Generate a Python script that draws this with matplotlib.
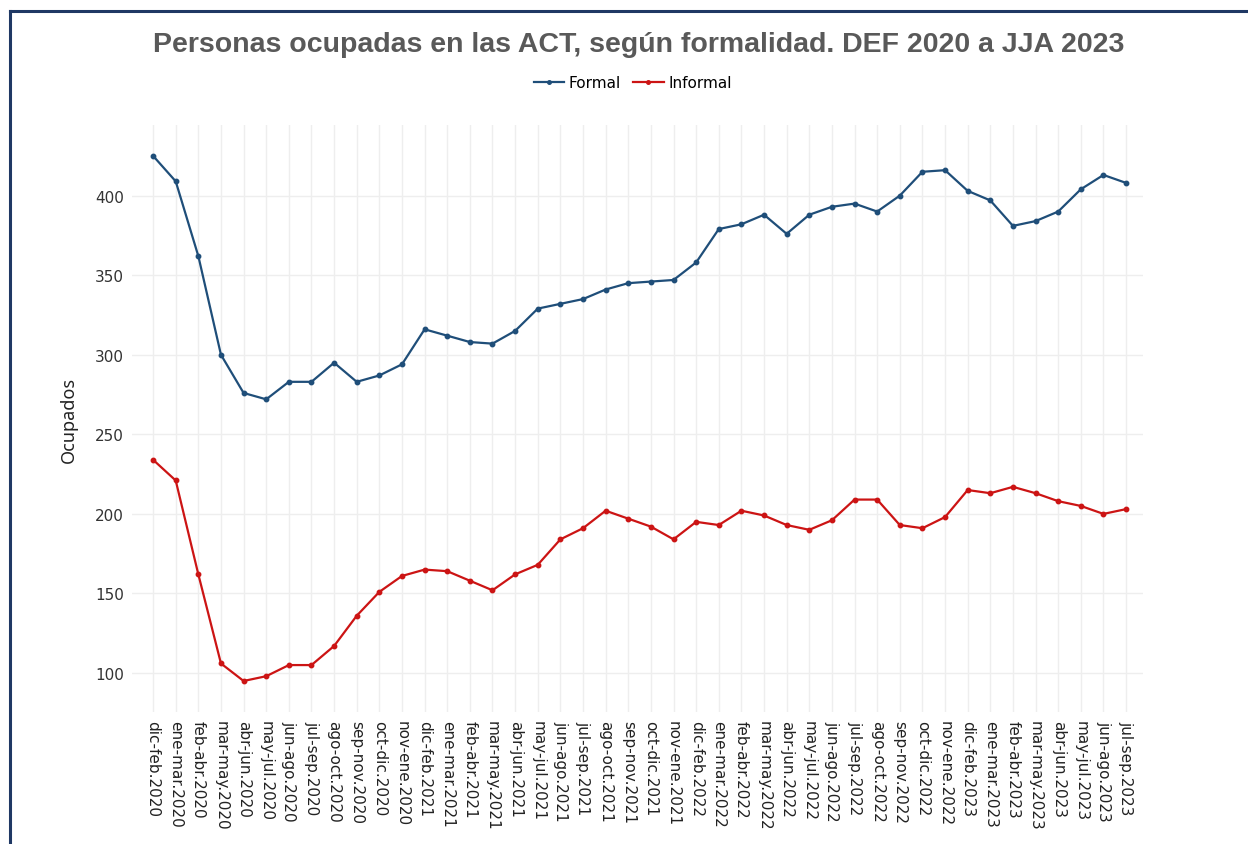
import matplotlib.pyplot as plt
from matplotlib.lines import Line2D

periodos = [
    "dic-feb.2020", "ene-mar.2020", "feb-abr.2020", "mar-may.2020", "abr-jun.2020",
    "may-jul.2020", "jun-ago.2020", "jul-sep.2020", "ago-oct.2020", "sep-nov.2020",
    "oct-dic.2020", "nov-ene.2020", "dic-feb.2021", "ene-mar.2021", "feb-abr.2021",
    "mar-may.2021", "abr-jun.2021", "may-jul.2021", "jun-ago.2021", "jul-sep.2021",
    "ago-oct.2021", "sep-nov.2021", "oct-dic.2021", "nov-ene.2021", "dic-feb.2022",
    "ene-mar.2022", "feb-abr.2022", "mar-may.2022", "abr-jun.2022", "may-jul.2022",
    "jun-ago.2022", "jul-sep.2022", "ago-oct.2022", "sep-nov.2022", "oct-dic.2022",
    "nov-ene.2022", "dic-feb.2023", "ene-mar.2023", "feb-abr.2023", "mar-may.2023",
    "abr-jun.2023", "may-jul.2023", "jun-ago.2023", "jul-sep.2023",
]

formal = [
    425, 409, 362, 300, 276, 272, 283, 283, 295, 283,
    287, 294, 316, 312, 308, 307, 315, 329, 332, 335,
    341, 345, 346, 347, 358, 379, 382, 388, 376, 388,
    393, 395, 390, 400, 415, 416, 403, 397, 381, 384,
    390, 404, 413, 408,
]

informal = [
    234, 221, 162, 106, 95, 98, 105, 105, 117, 136,
    151, 161, 165, 164, 158, 152, 162, 168, 184, 191,
    202, 197, 192, 184, 195, 193, 202, 199, 193, 190,
    196, 209, 209, 193, 191, 198, 215, 213, 217, 213,
    208, 205, 200, 203,
]

azul = "#1f4e79"
rojo = "#cc1414"
x = list(range(len(periodos)))

fig = plt.figure(figsize=(12.48, 8.45), dpi=100)
ax = fig.add_axes([0.1058, 0.1562, 0.8101, 0.6947])

ax.plot(x, formal, color=azul, lw=1.6, marker="o", ms=3.2, label="Formal")
ax.plot(x, informal, color=rojo, lw=1.6, marker="o", ms=3.2, label="Informal")

ax.set_xlim(-0.93, 43.75)
ax.set_ylim(75.5, 444.4)
ax.set_yticks([100, 150, 200, 250, 300, 350, 400])
ax.set_xticks(x)
ax.set_xticklabels(periodos, rotation=-90, ha="center", va="top",
                   fontsize=11, color="#222222")
ax.tick_params(axis="y", labelsize=11, labelcolor="#333333")
ax.tick_params(length=0, pad=6)
ax.grid(True, color="#eeeeee", lw=1)
ax.set_axisbelow(True)
for s in ax.spines.values():
    s.set_visible(False)

ax.set_ylabel("Ocupados", fontsize=13, color="#222222", family="Noto Sans", labelpad=12)

fig.text(0.512, 0.947, "Personas ocupadas en las ACT, según formalidad. DEF 2020 a JJA 2023",
         ha="center", va="center", fontsize=20.5, fontweight="bold",
         color="#595959", family="Liberation Sans")

fig.legend(loc="center", bbox_to_anchor=(0.507, 0.9006), ncol=2, frameon=False,
           fontsize=11, handlelength=2.0, handletextpad=0.3, columnspacing=0.8,
           markerscale=0.8)

# marco del recuadro (izquierda y arriba)
fig.add_artist(Line2D([10 / 1248, 10 / 1248], [0, 1 - 12 / 845],
                      transform=fig.transFigure, color="#1f3864", lw=2.2))
fig.add_artist(Line2D([10 / 1248, 1], [1 - 12 / 845, 1 - 12 / 845],
                      transform=fig.transFigure, color="#1f3864", lw=2.2))

fig.savefig("out.png", dpi=100)
